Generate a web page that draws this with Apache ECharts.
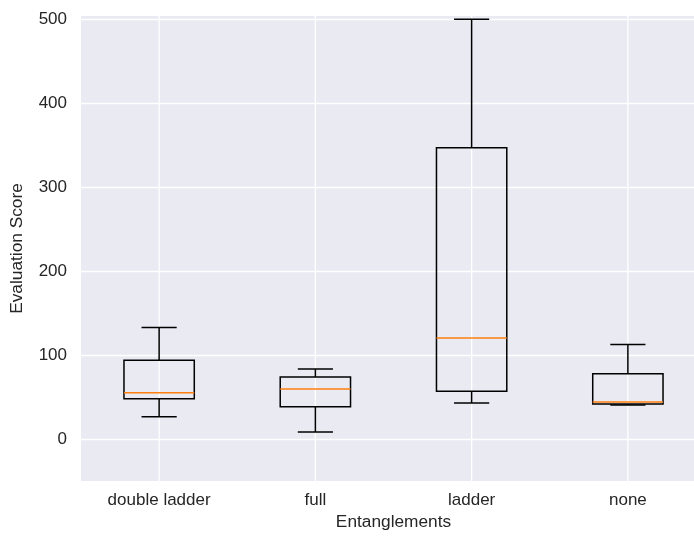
<!DOCTYPE html>
<html>
<head>
<meta charset="utf-8">
<script src="https://cdn.jsdelivr.net/npm/echarts@6/dist/echarts.min.js"></script>
<style>html,body{margin:0;padding:0;background:#fff}#c{width:694px;height:538px}</style>
</head>
<body>
<div id="c"></div>
<script>
const categories = ['double ladder', 'full', 'ladder', 'none'];
const whiskerLow = [26.5, 8.5, 43, 40.5];
const q1 = [48, 38.5, 57, 41.7];
const medians = [55, 59.5, 120.5, 44];
const q3 = [94, 74, 347, 77.7];
const whiskerHigh = [133, 83.5, 500, 112.5];

const yMin = -50, yMax = 504;
const textColor = '#262626';
const fontFamily = '"Liberation Sans", Arial, sans-serif';

const data = categories.map((c, i) => [i, whiskerLow[i], q1[i], medians[i], q3[i], whiskerHigh[i]]);

function renderItem(params, api) {
  const x = api.value(0);
  const band = api.size([1, 0])[0];
  const half = band * 0.45 / 2;
  const cap = half / 2;
  const pLo = api.coord([x, api.value(1)]);
  const pQ1 = api.coord([x, api.value(2)]);
  const pMed = api.coord([x, api.value(3)]);
  const pQ3 = api.coord([x, api.value(4)]);
  const pHi = api.coord([x, api.value(5)]);
  const cs = params.coordSys;
  const cx = pMed[0];
  const black = { stroke: '#000', lineWidth: 1.5, fill: null };
  return {
    type: 'group',
    children: [
      { type: 'line', shape: { x1: cx, y1: cs.y, x2: cx, y2: cs.y + cs.height }, style: { stroke: '#fff', lineWidth: 1.3 } },
      { type: 'line', shape: { x1: cx, y1: pQ1[1], x2: cx, y2: pLo[1] }, style: black },
      { type: 'line', shape: { x1: cx, y1: pQ3[1], x2: cx, y2: pHi[1] }, style: black },
      { type: 'line', shape: { x1: cx - cap, y1: pLo[1], x2: cx + cap, y2: pLo[1] }, style: black },
      { type: 'line', shape: { x1: cx - cap, y1: pHi[1], x2: cx + cap, y2: pHi[1] }, style: black },
      { type: 'rect', shape: { x: cx - half, y: pQ3[1], width: 2 * half, height: pQ1[1] - pQ3[1] }, style: black },
      { type: 'line', shape: { x1: cx - half, y1: pMed[1], x2: cx + half, y2: pMed[1] }, style: { stroke: '#ff7f0e', lineWidth: 1.5 } }
    ]
  };
}

const chart = echarts.init(document.getElementById('c'), null, { renderer: 'canvas' });
chart.setOption({
  animation: false,
  backgroundColor: '#fff',
  textStyle: { fontFamily: fontFamily },
  grid: {
    left: 81, right: -12, top: 16, bottom: 57,
    show: true, backgroundColor: '#EAEAF2', borderWidth: 0,
    containLabel: false, outerBoundsMode: 'none'
  },
  xAxis: {
    type: 'category',
    data: categories,
    name: 'Entanglements',
    nameLocation: 'middle',
    nameGap: 33,
    nameTextStyle: { color: textColor, fontSize: 17.3, fontFamily: fontFamily },
    axisLine: { show: false },
    axisTick: { show: false },
    splitLine: { show: false },
    axisLabel: { color: textColor, fontSize: 17, margin: 11, fontFamily: fontFamily }
  },
  yAxis: {
    type: 'value',
    min: yMin,
    max: yMax,
    name: 'Evaluation Score',
    nameLocation: 'middle',
    nameGap: 55,
    nameTextStyle: { color: textColor, fontSize: 17.3, fontFamily: fontFamily },
    axisLine: { show: false },
    axisTick: { show: false },
    axisLabel: { color: textColor, fontSize: 17, margin: 14, showMinLabel: false, showMaxLabel: false, fontFamily: fontFamily },
    splitLine: { show: true, showMinLine: false, showMaxLine: false, lineStyle: { color: '#fff', width: 1.3 } }
  },
  series: [{
    type: 'custom',
    renderItem: renderItem,
    encode: { x: 0, y: [1, 2, 3, 4, 5] },
    data: data,
    clip: false
  }]
});
</script>
</body>
</html>
